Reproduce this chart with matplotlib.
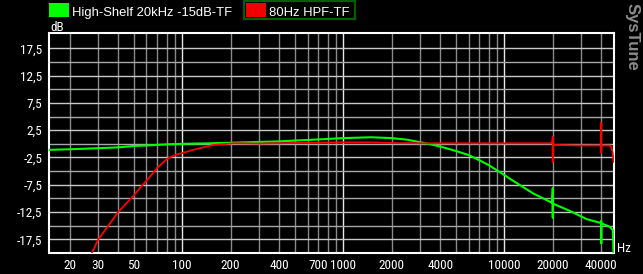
import matplotlib
matplotlib.use("Agg")
import matplotlib.pyplot as plt
from matplotlib import font_manager
from matplotlib.font_manager import FontProperties
from matplotlib.patches import Rectangle

# ---------------- data ----------------
series_names = ["High-Shelf 20kHz -15dB-TF", "80Hz HPF-TF"]
series_colors = ["#00ff00", "#ff0000"]

green_freq = [15, 20, 30, 40, 50, 60, 80, 100, 150, 200, 300, 400, 500, 700,
              1000, 1500, 2000, 2500, 3000, 3500, 4000, 5000, 6000, 7000, 8000,
              10000, 11100, 15150, 19800, 20000, 20000, 20000, 20200, 25600,
              32500, 39700, 40000, 40000, 40000, 40300, 45200, 47200, 47800]
green_db = [-1.1, -1.0, -0.8, -0.65, -0.4, -0.3, -0.1, 0.0, 0.1, 0.2, 0.35, 0.45,
            0.6, 0.8, 1.05, 1.2, 1.05, 0.75, 0.3, -0.1, -0.5, -1.3, -2.05, -3.0,
            -3.9, -5.7, -6.6, -9.1, -10.8, -8.1, -13.5, -10.9, -11.0, -12.3,
            -13.8, -14.5, -14.1, -18.2, -14.6, -14.6, -15.2, -15.8, -21.0]

red_freq = [27, 30, 35, 40, 45, 50, 55, 62, 70, 81, 92, 100, 117, 135, 156, 210,
            300, 500, 1000, 1500, 2000, 3000, 5000, 10000, 19800, 20000, 20000,
            20000, 20200, 30000, 39700, 40000, 40000, 40000, 40300, 45500, 46200,
            47000, 47800]
red_db = [-20.5, -17.6, -14.9, -12.5, -10.9, -9.5, -8.0, -6.3, -4.4, -2.7, -1.95,
          -1.7, -1.1, -0.65, -0.2, 0.1, 0.05, 0.15, 0.27, 0.27, 0.15, 0.1, 0.1,
          0.1, 0.1, 1.3, -3.3, 0.1, -0.2, -0.3, -0.3, 3.9, -1.6, -0.3, -0.3, -0.3,
          -0.6, -1.5, -3.3]

x_tick_values = [20, 30, 50, 100, 200, 400, 700, 1000, 2000, 4000, 10000, 20000, 40000]
x_tick_labels = ["20", "30", "50", "100", "200", "400", "700", "1000", "2000",
                 "4000", "10000", "20000", "40000"]
y_tick_values = [17.5, 12.5, 7.5, 2.5, -2.5, -7.5, -12.5, -17.5]
y_tick_labels = ["17,5", "12,5", "7,5", "2,5", "-2,5", "-7,5", "-12,5", "-17,5"]

# ---------------- fonts ----------------
plt.rcParams["font.family"] = ["Liberation Sans", "DejaVu Sans"]
narrow_file = None
prefs = ["Liberation Sans Narrow", "Roboto Condensed", "DejaVu Sans Condensed",
         "Open Sans Condensed", "Noto Sans Condensed"]
cands = []
for f in font_manager.fontManager.ttflist:
    nm = f.name
    fn = f.fname.lower()
    is_narrow = ("narrow" in fn or "condensed" in fn or "narrow" in nm.lower()
                 or "condensed" in nm.lower() or f.stretch in ("condensed", "semi-condensed", 500, 600))
    if is_narrow and f.style == "normal" and f.weight in (400, "normal", "regular") \
            and "bold" not in fn and "italic" not in fn and "oblique" not in fn \
            and "semi" not in fn and "extra" not in fn and "light" not in fn:
        cands.append(f)
for p in prefs:
    for f in cands:
        if p.lower().replace(" ", "") in f.fname.lower().replace("-", "").replace("_", "") \
                or f.name == p:
            narrow_file = f.fname
            break
    if narrow_file:
        break
if narrow_file is None and cands:
    narrow_file = cands[0].fname

if narrow_file:
    tick_fp = FontProperties(fname=narrow_file, size=9.5)
    unit_fp = FontProperties(fname=narrow_file, size=9.5)
else:
    tick_fp = FontProperties(family="Liberation Sans", size=8)
    unit_fp = FontProperties(family="Liberation Sans", size=8.5)

W, H = 643, 274
fig = plt.figure(figsize=(W / 100, H / 100), dpi=100, facecolor="black")
x0, x1, y0, y1 = 49.5, 614.3, 33.3, 253.0
ax = fig.add_axes([x0 / W, 1 - y1 / H, (x1 - x0) / W, (y1 - y0) / H])
ax.set_facecolor("black")
ax.set_xscale("log")
ax.set_xlim(15, 48200)
ax.set_ylim(-20, 20.25)

# grid
for dec in [10, 100, 1000, 10000]:
    for m in range(1, 10):
        f = dec * m
        if f < 20 or f > 40000:
            continue
        if m == 1:
            ax.axvline(f, color="#e8e8e8", lw=1.0, zorder=1)
        else:
            ax.axvline(f, color="#8a8a8a", lw=1.0, zorder=1)
k = -7
while k <= 7:
    v = 2.5 * k
    col = "#c8c8c8" if k % 2 else "#a8a8a8"
    ax.axhline(v, color=col, lw=1.0, zorder=1)
    k += 1

ax.plot(green_freq, green_db, color=series_colors[0], lw=1.5, zorder=3)
ax.plot(red_freq, red_db, color=series_colors[1], lw=1.3, zorder=4)

for s in ax.spines.values():
    s.set_color("white")
    s.set_linewidth(1.5)

ax.set_xticks(x_tick_values)
ax.set_xticklabels(x_tick_labels)
ax.set_xticks([], minor=True)
ax.set_yticks(y_tick_values)
ax.set_yticklabels(y_tick_labels)
ax.tick_params(axis="both", length=0, colors="white")
ax.tick_params(axis="x", pad=4)
ax.tick_params(axis="y", pad=5)
for lab in ax.get_xticklabels() + ax.get_yticklabels():
    lab.set_fontproperties(tick_fp)

# axis unit labels
fig.text(50 / W, 1 - 31 / H, "dB", color="white", fontproperties=unit_fp,
         ha="left", va="baseline")
fig.text(617 / W, 1 - 252 / H, "Hz", color="white", fontproperties=unit_fp,
         ha="left", va="baseline")

# legend (manual)
fig.patches.append(Rectangle((49 / W, 1 - 17 / H), 20 / W, 14 / H,
                             transform=fig.transFigure, facecolor=series_colors[0],
                             edgecolor="none"))
fig.text(72 / W, 1 - 16 / H, series_names[0], color="white", fontsize=9.4,
         ha="left", va="baseline")
fig.patches.append(Rectangle((244 / W, 1 - 19 / H), 111 / W, 18.5 / H,
                             transform=fig.transFigure, facecolor="none",
                             edgecolor="#006000", lw=1.6))
fig.patches.append(Rectangle((246 / W, 1 - 16.5 / H), 19.5 / W, 13.5 / H,
                             transform=fig.transFigure, facecolor="#f00000",
                             edgecolor="none"))
fig.text(269 / W, 1 - 16 / H, series_names[1], color="white", fontsize=9.4,
         ha="left", va="baseline")

# watermark
fig.text(632 / W, 1 - 3 / H, "SysTune", color="#8c8c8c", fontsize=12,
         fontweight="bold", rotation=-90, ha="center", va="top")

fig.savefig("out.png", dpi=100, facecolor="black")
